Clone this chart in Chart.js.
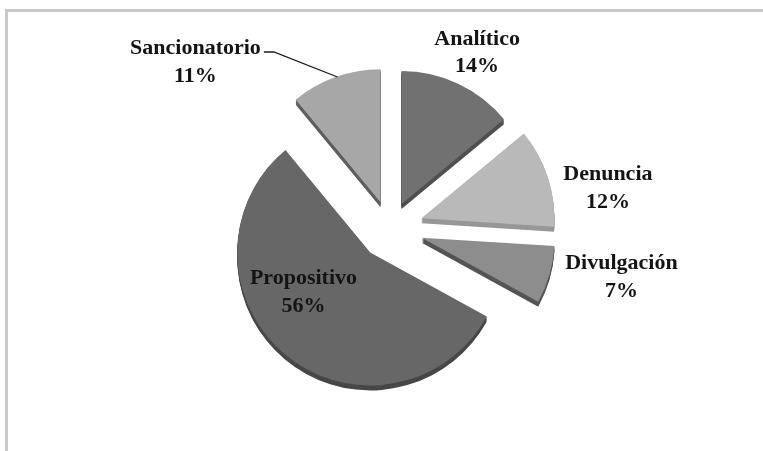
<!DOCTYPE html>
<html>
<head>
<meta charset="utf-8">
<script src="https://cdn.jsdelivr.net/npm/chart.js@4.4.1/dist/chart.umd.min.js"></script>
<style>
  html, body { margin: 0; padding: 0; background: #fff; }
  #wrap { position: relative; width: 763px; height: 451px; }
</style>
</head>
<body>
<div id="wrap"><canvas id="pieChart" width="763" height="451"></canvas></div>
<script>
// categorias y porcentajes
const categorias = ['Analítico', 'Denuncia', 'Divulgación', 'Propositivo', 'Sancionatorio'];
const porcentajes = [14, 12, 7, 56, 11];

// estilo de cada porcion
const colores = ['#717171', '#b9b9b9', '#8d8d8d', '#676767', '#a7a7a7'];
const coloresLado = ['#4f4f4f', '#979797', '#555555', '#474747', '#5e5e5e'];
const separacion = [27, 33, 33, 31, 28];   // px que se aleja cada porcion del centro
const profundidad = 5;

// desplazamiento de cada etiqueta respecto al punto medio del arco
const etiquetaDesp = [[19, -31], [60, 11], [72, 2], [18, -63], [-140, -15]];

const ctx = document.getElementById('pieChart');

function sectorPath(c, arc, dx, dy) {
    c.beginPath();
    c.moveTo(arc.x + dx, arc.y + dy);
    c.arc(arc.x + dx, arc.y + dy, arc.outerRadius, arc.startAngle, arc.endAngle);
    c.closePath();
}

// dibuja las porciones separadas con un canto 3D
const explodePlugin = {
    id: 'explode3d',
    beforeDatasetDraw(chart, args) {
        const c = chart.ctx;
        args.meta.data.forEach((arc, i) => {
            const mid = (arc.startAngle + arc.endAngle) / 2;
            const dx = Math.cos(mid) * separacion[i];
            const dy = Math.sin(mid) * separacion[i];
            c.save();
            c.fillStyle = coloresLado[i];
            for (let k = profundidad; k >= 1; k--) {
                sectorPath(c, arc, dx, dy + k);
                c.fill();
            }
            c.restore();
            c.save();
            c.translate(dx, dy);
            arc.draw(c);
            c.restore();
        });
        return false;
    },
    afterDraw(chart) {
        const c = chart.ctx;
        const meta = chart.getDatasetMeta(0);
        c.save();
        c.font = 'bold 22px "Liberation Serif", "Times New Roman", serif';
        c.fillStyle = '#141414';
        c.textAlign = 'center';
        c.textBaseline = 'middle';
        meta.data.forEach((arc, i) => {
            const mid = (arc.startAngle + arc.endAngle) / 2;
            const r = separacion[i] + arc.outerRadius;
            const ex = arc.x + Math.cos(mid) * r;
            const ey = arc.y + Math.sin(mid) * r;
            const lx = ex + etiquetaDesp[i][0];
            const ly = ey + etiquetaDesp[i][1];
            c.fillText(categorias[i], lx, ly - 13.5);
            c.fillText(porcentajes[i] + '%', lx, ly + 14);
            // linea guia solo cuando la etiqueta queda lejos
            if (Math.abs(etiquetaDesp[i][0]) > 100) {
                const w = c.measureText(categorias[i]).width;
                const x0 = lx + w / 2 + 3;
                c.beginPath();
                c.strokeStyle = '#1a1a1a';
                c.lineWidth = 1.3;
                c.moveTo(x0, ly - 10);
                c.lineTo(x0 + 10, ly - 10);
                c.lineTo(ex + 2, ey);
                c.stroke();
            }
        });
        c.restore();
    }
};

// marco gris del area del grafico
const framePlugin = {
    id: 'frame',
    beforeDraw(chart) {
        const c = chart.ctx;
        c.save();
        c.strokeStyle = '#c9c9c9';
        c.lineWidth = 3;
        c.beginPath();
        c.moveTo(6.5, chart.height);
        c.lineTo(6.5, 10.5);
        c.lineTo(chart.width, 10.5);
        c.stroke();
        c.restore();
    }
};

new Chart(ctx, {
    type: 'pie',
    data: {
        labels: categorias,
        datasets: [{
            data: porcentajes,
            backgroundColor: colores,
            borderWidth: 0
        }]
    },
    options: {
        responsive: false,
        animation: false,
        radius: 133,
        layout: { padding: { left: 17, right: 0, top: 6, bottom: 0 } },
        plugins: {
            legend: { display: false },
            tooltip: { enabled: false }
        }
    },
    plugins: [framePlugin, explodePlugin]
});
</script>
</body>
</html>
